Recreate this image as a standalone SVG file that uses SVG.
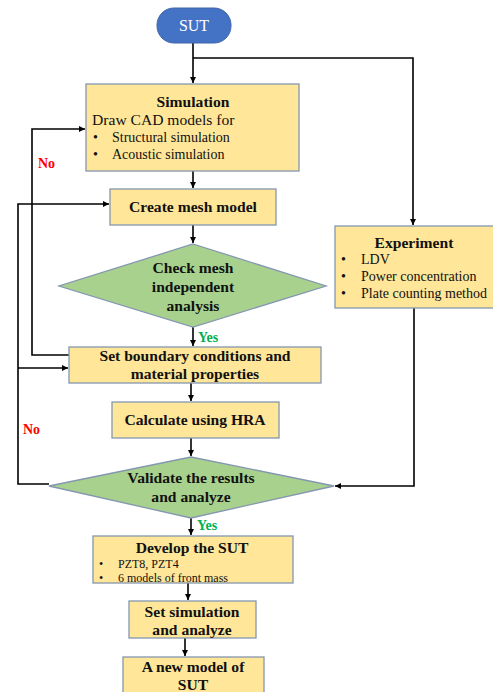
<svg xmlns="http://www.w3.org/2000/svg" width="493" height="692" viewBox="0 0 493 692">
<defs>
<marker id="ah" viewBox="0 0 8 8" refX="8" refY="4" markerWidth="6" markerHeight="6" markerUnits="userSpaceOnUse" orient="auto">
<path d="M0,0 L8,4 L0,8 z" fill="#000"/>
</marker>
</defs>
<style>
.box{fill:#FFE699;stroke:#8497B0;stroke-width:1.3}
.dia{fill:#A9D18E;stroke:#8497B0;stroke-width:1.3}
.t{font-family:"Liberation Serif","Times New Roman",serif;fill:#111}
.b{font-weight:bold;font-size:15.6px;text-anchor:middle}
.n{font-size:14px}
.s{font-size:12px}
.ln{fill:none;stroke:#000;stroke-width:1.6}
.arr{marker-end:url(#ah)}
.no{font-family:"Liberation Serif",serif;font-weight:bold;font-size:14px;fill:#FF0000}
.yes{font-family:"Liberation Serif",serif;font-weight:bold;font-size:14px;fill:#00B050}
</style>
<g id="connectors">
<path class="ln arr" d="M193,43 V83"/>
<path class="ln arr" d="M193,58 H413 V225"/>
<path class="ln arr" d="M193,171 V188"/>
<path class="ln arr" d="M193,225 V243"/>
<path class="ln arr" d="M193,327 V346"/>
<path class="ln arr" d="M191,383 V401"/>
<path class="ln arr" d="M191,438 V456"/>
<path class="ln arr" d="M191,518 V535"/>
<path class="ln arr" d="M188,583 V600"/>
<path class="ln arr" d="M185,638 V656"/>
<path class="ln arr" d="M69,355 H32 V129 H85"/>
<path class="ln arr" d="M49,484 H18 V204 H109"/>
<path class="ln arr" d="M18,368 H68"/>
<path class="ln arr" d="M414,308 V486 H335"/>
<text class="no" x="38" y="168">No</text>
<text class="no" x="23" y="434">No</text>
<text class="yes" x="198" y="342">Yes</text>
<text class="yes" x="197" y="530">Yes</text>
</g>
<g id="sut">
<rect x="157" y="8" width="74" height="35" rx="17" fill="#4472C4" stroke="#3F64A8" stroke-width="1"/>
<text class="t" x="194" y="31" font-size="16" text-anchor="middle" style="fill:#fff">SUT</text>
</g>
<g id="simulation">
<rect class="box" x="86" y="84" width="213" height="87"/>
<text class="t b" x="193" y="107">Simulation</text>
<text class="t" x="92" y="125" font-size="15.6">Draw CAD models for</text>
<text class="t n" x="93" y="142">•</text>
<text class="t n" x="112" y="142">Structural simulation</text>
<text class="t n" x="93" y="159">•</text>
<text class="t n" x="112" y="159">Acoustic simulation</text>
</g>
<g id="mesh">
<rect class="box" x="110" y="189" width="166" height="36"/>
<text class="t b" x="193" y="212">Create mesh model</text>
</g>
<g id="check">
<polygon class="dia" points="193,244 326,286 193,327 59,286"/>
<text class="t b" x="193" y="273">Check mesh</text>
<text class="t b" x="193" y="292">independent</text>
<text class="t b" x="193" y="311">analysis</text>
</g>
<g id="experiment">
<rect class="box" x="335" y="226" width="160" height="82"/>
<text class="t b" x="414" y="248">Experiment</text>
<text class="t n" x="341" y="264">•</text>
<text class="t n" x="361" y="264">LDV</text>
<text class="t n" x="341" y="281">•</text>
<text class="t n" x="361" y="281">Power concentration</text>
<text class="t n" x="341" y="298">•</text>
<text class="t n" x="361" y="298">Plate counting method</text>
</g>
<g id="boundary">
<rect class="box" x="69" y="347" width="252" height="36"/>
<text class="t b" x="195" y="361">Set boundary conditions and</text>
<text class="t b" x="195" y="379">material properties</text>
</g>
<g id="hra">
<rect class="box" x="112" y="402" width="167" height="36"/>
<text class="t b" x="195" y="425">Calculate using HRA</text>
</g>
<g id="validate">
<polygon class="dia" points="191,457 334,486 191,518 49,486"/>
<text class="t b" x="191" y="483">Validate the results</text>
<text class="t b" x="191" y="502">and analyze</text>
</g>
<g id="develop">
<rect class="box" x="93" y="536" width="200" height="47"/>
<text class="t b" x="192" y="553">Develop the SUT</text>
<text class="t s" x="99" y="568">•</text>
<text class="t s" x="118" y="568">PZT8, PZT4</text>
<text class="t s" x="99" y="582">•</text>
<text class="t s" x="118" y="582">6 models of front mass</text>
</g>
<g id="setsim">
<rect class="box" x="129" y="601" width="127" height="37"/>
<text class="t b" x="192" y="617">Set simulation</text>
<text class="t b" x="192" y="635">and analyze</text>
</g>
<g id="newmodel">
<rect class="box" x="123" y="657" width="141" height="40"/>
<text class="t b" x="193" y="672">A new model of</text>
<text class="t b" x="193" y="690">SUT</text>
</g>
</svg>
